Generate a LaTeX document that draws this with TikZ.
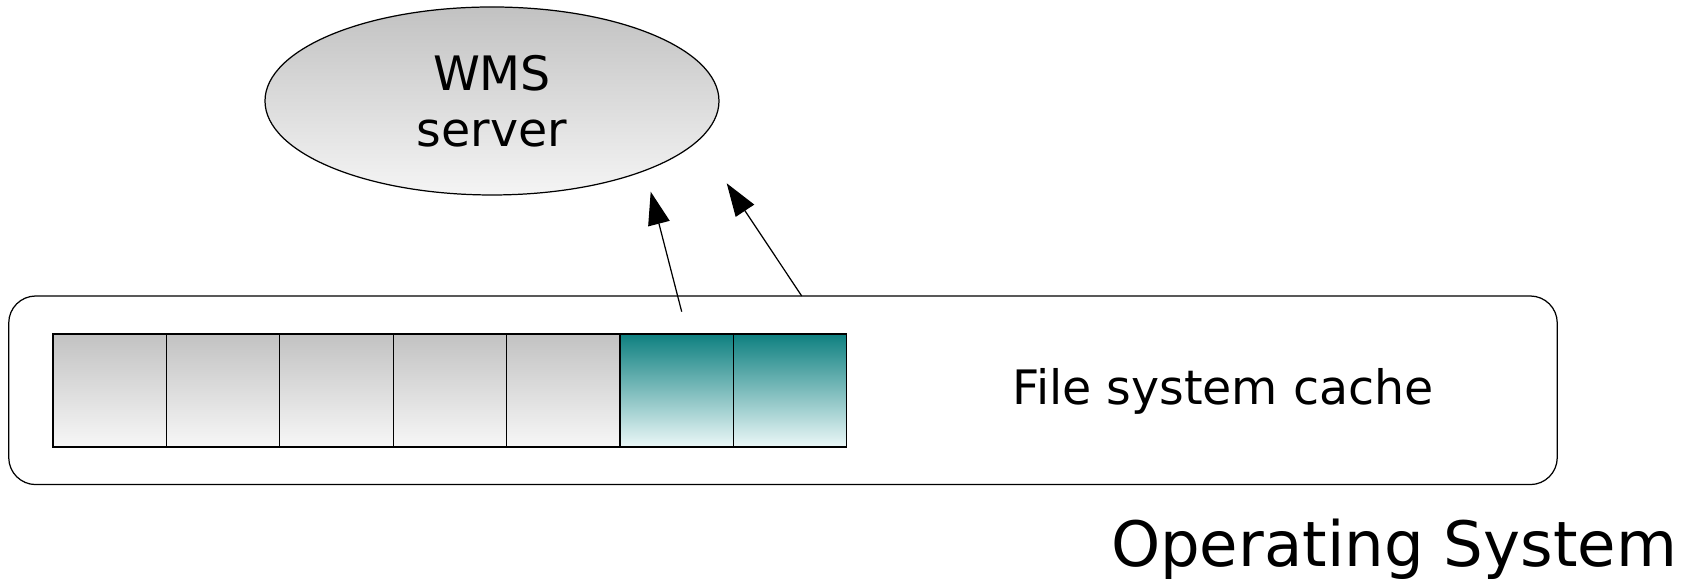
\documentclass[tikz,border=0pt]{standalone}
\usepackage{fontspec}
\setmainfont{DejaVu Sans}
\usetikzlibrary{shapes.geometric, arrows.meta, positioning}
\usepackage{xcolor}

\definecolor{cellgray}{RGB}{194,194,194}
\definecolor{cellwhite}{RGB}{247,247,247}
\definecolor{cellteal}{RGB}{14,128,128}
\definecolor{cellpale}{RGB}{236,248,248}

\begin{document}
\begin{tikzpicture}[line width=0.35pt,
      cell/.style = {draw, inner sep=0pt, outer sep=0pt, minimum width=1.134cm, minimum height=1.13cm, top color=cellgray, bottom color=cellwhite},
      hot/.style = {cell, top color=cellteal, bottom color=cellpale},
      label/.style = {font=\fontsize{13.5pt}{16pt}\selectfont}]
      \useasboundingbox (0,0) rectangle (16.96,5.81);

      % server
      \node[draw, ellipse, inner sep=0pt, minimum width=4.54cm, minimum height=1.88cm,
            top color=black!24, bottom color=black!4, label, align=center] (wms) at (4.92,4.80) {WMS\\server};

      % cache
      \node[draw, rounded corners=0.27cm, minimum width=15.485cm, minimum height=1.886cm, inner sep=0pt] (cache) at (7.83,1.907) {};
      \node[cell] (c1) at (1.097,1.905) {};
      \node[cell] (c2) at (2.231,1.905) {};
      \node[cell] (c3) at (3.365,1.905) {};
      \node[cell] (c4) at (4.499,1.905) {};
      \node[cell] (c5) at (5.633,1.905) {};
      \node[hot] (c6) at (6.767,1.905) {};
      \node[hot] (c7) at (7.901,1.905) {};
      \node[label, anchor=base] (fsc) at (12.23,1.765) {File system cache};

      \node[font=\fontsize{17.8pt}{21pt}\selectfont, anchor=base] (os) at (13.94,0.14) {Operating System};

      % requests
      \coordinate (r1) at (6.817,2.693);
      \coordinate (h1) at (6.507,3.893);
      \coordinate (r2) at (8.017,2.85);
      \coordinate (h2) at (7.267,3.977);

      \path[-{Triangle[length=3.3mm, width=2.2mm]}]
      (r1) edge (h1)
      (r2) edge (h2);
    \end{tikzpicture}
\end{document}
